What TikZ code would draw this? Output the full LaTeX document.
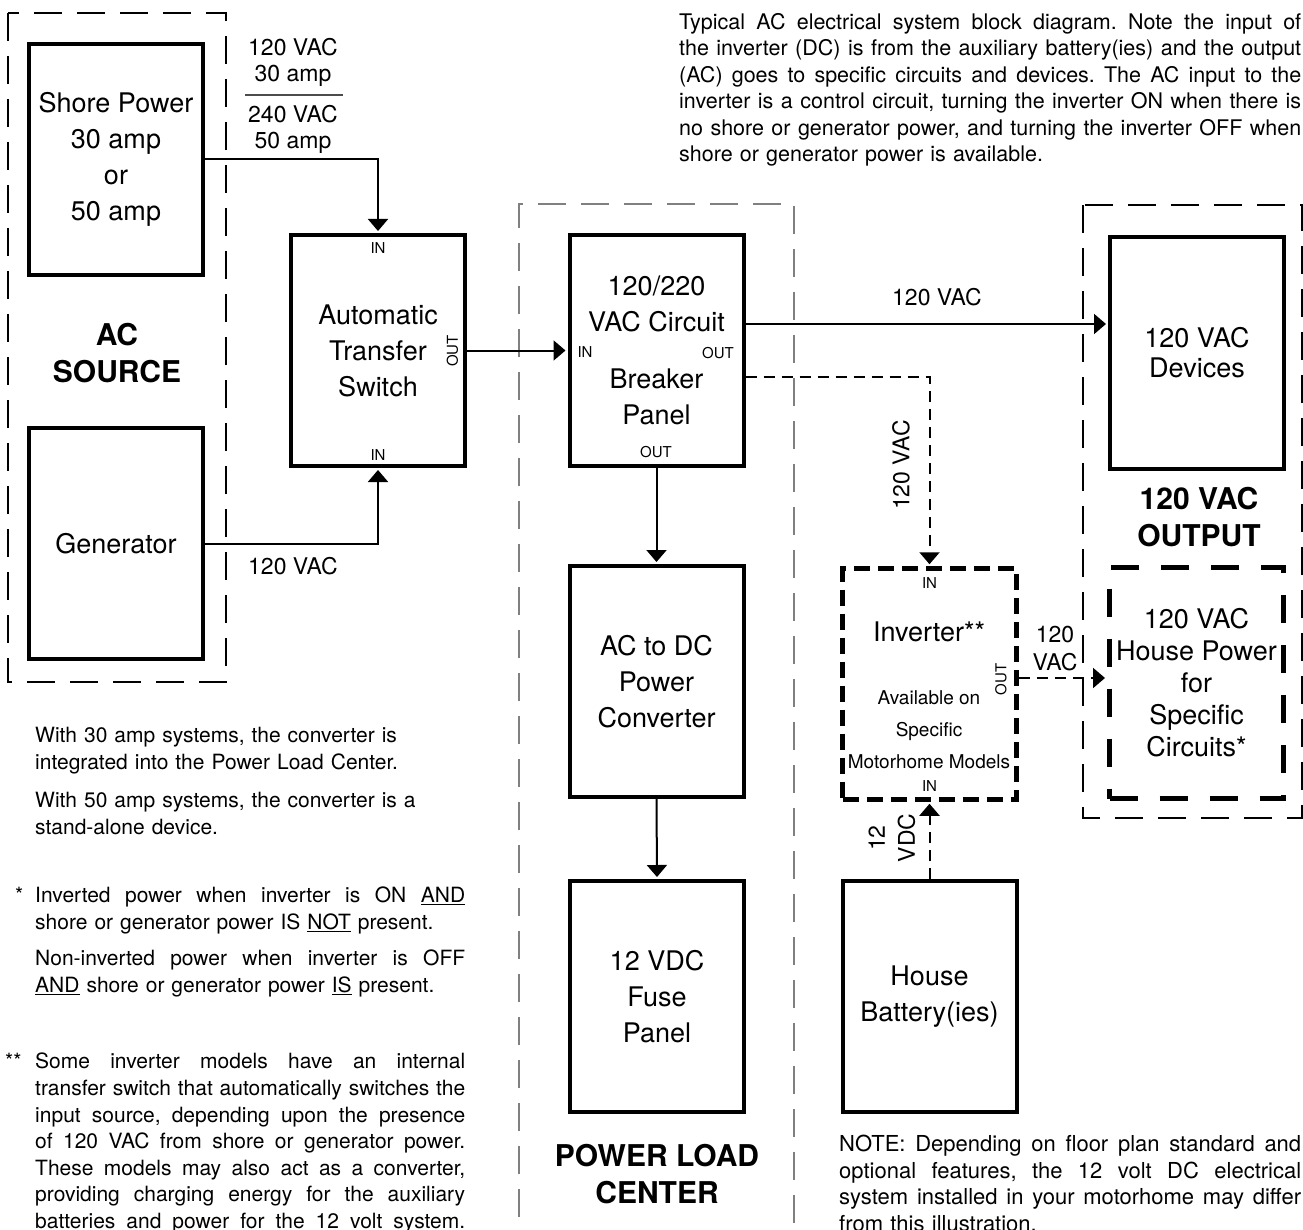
\documentclass[tikz,border=0pt]{standalone}
\usepackage{fontspec}
\setmainfont{TeX Gyre Heros}
\usetikzlibrary{arrows.meta}
\frenchspacing
\newcommand\fl[2][430pt]{\makebox[#1][s]{\spaceskip=0pt\xspaceskip=0pt #2}}
\tikzset{
  blk/.style={draw,line width=4pt,minimum width=174pt,minimum height=231pt,
    inner sep=0pt,align=center,font=\fontsize{27}{36}\selectfont},
  grp/.style={line width=2.5pt,dash pattern=on 28pt off 15pt},
  ttl/.style={inner sep=0pt,align=center,font=\bfseries\fontsize{30}{37}\selectfont},
  pin/.style={inner sep=0pt,font=\fontsize{15}{15}\selectfont},
  lbl/.style={inner sep=0pt,align=center,font=\fontsize{23}{26}\selectfont},
  wire/.style={line width=2pt,shorten >=2pt,-{Triangle[width=20pt,length=12pt]}},
  sig/.style={wire,dash pattern=on 11pt off 7pt},
  note/.style={inner sep=0pt,align=left,anchor=north west,font=\fontsize{21}{26.6}\selectfont},
}
\begin{document}
\begin{tikzpicture}[x=1pt,y=-1pt]
  \useasboundingbox (0,0) rectangle (1303,1230);
  % group frames
  \draw[grp] (8,13) rectangle (226,682);
  \draw[grp,line width=2pt,gray] (519,1260) -- (519,204) -- (794,204) -- (794,1260);
  \draw[grp] (1083,205) rectangle (1302,818);
  \node[ttl] (acsrc) at (117,353) {AC\\SOURCE};
  \node[ttl] (plc) at (657,1174) {POWER LOAD\\CENTER};
  \node[ttl] (acout) at (1199,517) {120 VAC\\OUTPUT};
  % blocks
  \node[blk] (shore) at (116,159.5) {Shore Power\\30 amp\\or\\50 amp};
  \node[blk] (gen) at (116,543.5) {Generator};
  \node[blk] (ats) at (378,350.5) {Automatic\\Transfer\\Switch};
  \node[blk] (cb) at (656.5,350.5) {120/220\\VAC Circuit\\[21pt]Breaker\\Panel};
  \node[blk] (conv) at (656.5,681.5) {AC to DC\\Power\\Converter};
  \node[blk] (fuse) at (657,996.5) {12 VDC\\Fuse\\Panel};
  \node[blk,font=\fontsize{27}{30}\selectfont] (dev) at (1197,353) {120 VAC\\Devices};
  \node[blk,line width=4.5pt,dash pattern=on 16pt off 8pt] (inv) at (929.5,684) {};
  \node[blk,line width=5pt,dash pattern=on 28pt off 22pt,font=\fontsize{27}{32}\selectfont] (hp) at (1196.5,683) {120 VAC\\House Power\\for\\Specific\\Circuits*};
  \node[blk] (bat) at (929.5,996.5) {House\\Battery(ies)};
  \node[inner sep=0pt,font=\fontsize{27}{32}\selectfont] (invname) at (929,632) {Inverter**};
  \node[inner sep=0pt,align=center,font=\fontsize{19}{32}\selectfont] (invsub) at (929,730) {Available on\\Specific\\Motorhome Models};
  % in / out marks
  \node[pin] (atsin1) at (378,248) {IN};
  \node[pin] (atsin2) at (378,455) {IN};
  \node[pin,rotate=90] (atsout) at (452.5,351) {OUT};
  \node[pin] (cbin) at (585,352) {IN};
  \node[pin] (cbout1) at (718,353) {OUT};
  \node[pin] (cbout2) at (656,452) {OUT};
  \node[pin] (invin1) at (929.5,583) {IN};
  \node[pin] (invin2) at (929.5,786) {IN};
  \node[pin,rotate=90] (invout) at (1001,679.5) {OUT};
  % connections
  \draw[wire] (shore.east) -| (ats.north);
  \draw[wire] (gen.east) -| (ats.south);
  \draw[wire] (ats.east) -- (cb.west);
  \draw[wire] ([yshift=26.5pt]cb.east) -- ([yshift=26.5pt]cb.east -| dev.west);
  \draw[sig] ([yshift=-26.5pt]cb.east) -| (inv.north);
  \draw[wire] (cb.south) -- (conv.north);
  \draw[wire] (conv.south) -- (fuse.north);
  \draw[sig] (bat.north) -- (inv.south);
  \draw[sig] ([yshift=6pt]inv.east) -- ([yshift=6pt]inv.east -| hp.west);
  % wire labels
  \node[lbl] (spl1) at (293,62.5) {120 VAC\\30 amp};
  \draw[line width=1.2pt,black!70] (245,95) -- (343,95);
  \node[lbl] (spl2) at (293,129) {240 VAC\\50 amp};
  \node[lbl] (genl) at (293,566) {120 VAC};
  \node[lbl] (devl) at (937,297) {120 VAC};
  \node[lbl,rotate=90] (invl) at (901,465) {120 VAC};
  \node[lbl,font=\fontsize{23}{28}\selectfont] (hpl) at (1055,649) {120\\VAC};
  \node[lbl,rotate=90,font=\fontsize{23}{30}\selectfont] (batl) at (892,838) {12\\VDC};
  % texts
  \node[note,font=\fontsize{21.5}{26.5}\selectfont,text width=622pt] (desc) at (679,13)
    {\fl[622pt]{Typical AC electrical system block diagram. Note the input of}\\
     \fl[622pt]{the inverter (DC) is from the auxiliary battery(ies) and the output}\\
     \fl[622pt]{(AC) goes to specific circuits and devices. The AC input to the}\\
     \fl[622pt]{inverter is a control circuit, turning the inverter ON when there is}\\
     \fl[622pt]{no shore or generator power, and turning the inverter OFF when}\\
     shore or generator power is available.};
  \node[note,text width=430pt] (n30) at (35,727)
    {With 30 amp systems, the converter is\\integrated into the Power Load Center.};
  \node[note,text width=430pt] (n50) at (35,792)
    {With 50 amp systems, the converter is a\\stand-alone device.};
  \node[note] (star1) at (15,887) {*};
  \node[note,text width=430pt] (ninv) at (35,887)
    {\fl{Inverted power when inverter is ON \underline{AND}}\\
     shore or generator power IS \underline{NOT} present.};
  \node[note,text width=430pt] (nnon) at (35,950)
    {\fl{Non-inverted power when inverter is OFF}\\
     \underline{AND} shore or generator power \underline{IS} present.};
  \node[note] (star2) at (5,1053) {**};
  \node[note,text width=430pt] (nsome) at (35,1053)
    {\fl{Some inverter models have an internal}\\
     \fl{transfer switch that automatically switches the}\\
     \fl{input source, depending upon the presence}\\
     \fl{of 120 VAC from shore or generator power.}\\
     \fl{These models may also act as a converter,}\\
     \fl{providing charging energy for the auxiliary}\\
     \fl{batteries and power for the 12 volt system.}};
  \node[note,font=\fontsize{22}{26.5}\selectfont,text width=462pt] (nnote) at (839,1135)
    {\fl[462pt]{NOTE: Depending on floor plan standard and}\\
     \fl[462pt]{optional features, the 12 volt DC electrical}\\
     \fl[462pt]{system installed in your motorhome may differ}\\
     from this illustration.};
\end{tikzpicture}
\end{document}
